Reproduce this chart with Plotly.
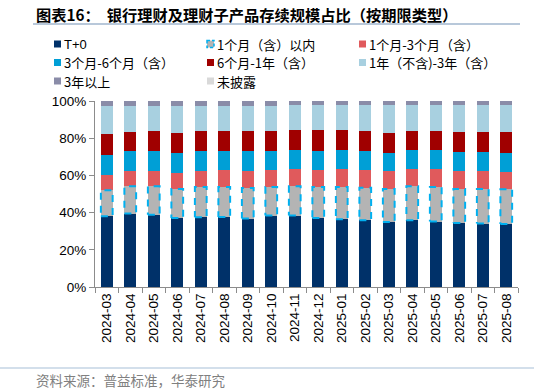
import plotly.graph_objects as go

months = ["2024-03", "2024-04", "2024-05", "2024-06", "2024-07", "2024-08", "2024-09",
          "2024-10", "2024-11", "2024-12", "2025-01", "2025-02", "2025-03", "2025-04",
          "2025-05", "2025-06", "2025-07", "2025-08"]

t0 = [38.0, 39.5, 38.9, 37.1, 37.5, 37.6, 36.8, 38.4, 38.4, 37.1, 36.4, 35.9, 35.0, 35.9, 35.2, 34.4, 34.1, 33.9]
m1 = [14.0, 14.6, 15.2, 15.6, 16.3, 16.2, 16.4, 15.4, 15.7, 16.7, 17.4, 17.5, 17.7, 18.2, 18.6, 18.3, 18.6, 18.6]
m1_3 = [8.4, 8.3, 8.4, 8.4, 8.7, 8.9, 9.2, 9.1, 9.2, 9.1, 9.5, 9.5, 9.5, 9.5, 9.5, 9.7, 9.5, 9.5]
m3_6 = [10.4, 10.6, 10.6, 10.9, 10.5, 10.5, 10.6, 10.3, 10.2, 10.2, 10.2, 10.1, 10.0, 9.9, 10.2, 10.2, 10.2, 10.2]
m6_12 = [11.5, 10.3, 10.6, 11.0, 10.7, 10.7, 10.7, 10.9, 10.7, 11.1, 10.7, 10.9, 10.8, 10.4, 10.2, 10.6, 10.8, 11.0]
y1_3 = [15.0, 14.0, 13.6, 14.3, 13.6, 13.4, 13.6, 13.2, 13.5, 13.5, 13.5, 13.8, 14.7, 13.8, 14.0, 14.5, 14.5, 14.5]
y3p = [2.7, 2.7, 2.7, 2.7, 2.7, 2.7, 2.7, 2.8, 2.3, 2.3, 2.3, 2.3, 2.3, 2.3, 2.3, 2.3, 2.3, 2.3]
undisclosed = [0.0] * 18

names = ["T+0", "1个月（含）以内", "1个月-3个月（含）", "3个月-6个月（含）",
         "6个月-1年（含）", "1年（不含)-3年（含）", "3年以上", "未披露"]
series = [t0, m1, m1_3, m3_6, m6_12, y1_3, y3p, undisclosed]
colors = ["#003169", "#B4B4B4", "#E05A5C", "#009FD6", "#A00000", "#A8D0E0", "#8A8CA8", "#D9D9D9"]
border_color = "#00B0F0"

FONT = "Liberation Sans, Noto Sans CJK SC, Arial"
CJK = "Noto Sans CJK SC, Liberation Sans"

W, H = 534, 392
L, R, T, B = 95, 16, 101, 105
PW, PH = W - L - R, H - T - B

def px2x(px):
    return (px - L) / PW

def py2y(py):
    return (H - B - py) / PH

xs = list(range(len(months)))
bw = 0.5

fig = go.Figure()
for name, vals, col in zip(names, series, colors):
    fig.add_trace(go.Bar(x=xs, y=vals, name=name, marker=dict(color=col, line=dict(width=0)),
                         width=bw, showlegend=False))

# dashed cyan outline of the "1个月（含）以内" segment
bx, by = [], []
for i, (b, h) in enumerate(zip(t0, m1)):
    bx += [i - bw / 2, i + bw / 2, i + bw / 2, i - bw / 2, i - bw / 2, None]
    by += [b, b, b + h, b + h, b, None]
fig.add_trace(go.Scatter(x=bx, y=by, mode="lines", showlegend=False, hoverinfo="skip",
                         line=dict(color=border_color, width=2, dash="7px,6px")))

fig.update_layout(
    barmode="stack",
    width=W, height=H,
    margin=dict(l=L, r=R, t=T, b=B),
    plot_bgcolor="white", paper_bgcolor="white",
    bargap=0.5,
    font=dict(family=FONT, size=13, color="black"),
)
fig.update_xaxes(
    range=[-0.5, len(months) - 0.5],
    tickmode="array", tickvals=xs, ticktext=months, tickangle=-90,
    ticks="", ticklen=0,
    tickfont=dict(family=FONT, size=13.5, color="black"),
    showline=True, linecolor="#8C8C8C", linewidth=1,
    showgrid=False, zeroline=False,
    minor=dict(tickmode="array", tickvals=[i - 0.5 for i in range(len(months) + 1)],
               ticks="outside", ticklen=5, tickcolor="#8C8C8C", tickwidth=1, showgrid=False),
)
fig.update_yaxes(
    range=[0, 100], tickvals=[0, 20, 40, 60, 80, 100],
    ticktext=["0%", "20%", "40%", "60%", "80%", "100%"],
    ticks="outside", ticklen=5, tickcolor="#8C8C8C",
    tickfont=dict(family=FONT, size=13.5, color="black"),
    showline=True, linecolor="#8C8C8C", linewidth=1,
    showgrid=False, zeroline=False,
)

shapes = []
annotations = []

# title + rule
annotations.append(dict(xref="paper", yref="paper", x=px2x(34), y=py2y(14), xanchor="left", yanchor="middle",
                        text="<b>图表16：  银行理财及理财子产品存续规模占比（按期限类型）</b>", showarrow=False,
                        font=dict(family=CJK, size=15.25, color="black")))
shapes.append(dict(type="line", xref="paper", yref="paper", x0=px2x(33), x1=px2x(520), y0=py2y(24), y1=py2y(24),
                   line=dict(color="#B8C8DA", width=2)))

# manual legend
col_x = [54, 207, 359]
row_y = [44, 62.5, 81]
for k, (name, col) in enumerate(zip(names, colors)):
    cx = col_x[k % 3]
    cy = row_y[k // 3]
    s = 7
    shapes.append(dict(type="rect", xref="paper", yref="paper",
                       x0=px2x(cx), x1=px2x(cx + s), y0=py2y(cy - s / 2), y1=py2y(cy + s / 2),
                       fillcolor=col,
                       line=dict(color=border_color if k == 1 else col, width=1.5 if k == 1 else 0,
                                 dash="3px,2px")))
    annotations.append(dict(xref="paper", yref="paper", x=px2x(cx + s + 1), y=py2y(cy), xanchor="left",
                            yanchor="middle", text=name, showarrow=False,
                            font=dict(family=CJK if k else FONT, size=13, color="black")))

# source line + text
shapes.append(dict(type="line", xref="paper", yref="paper", x0=px2x(0), x1=px2x(534), y0=py2y(368), y1=py2y(368),
                   line=dict(color="#C5D5E4", width=1.5)))
annotations.append(dict(xref="paper", yref="paper", x=px2x(34), y=py2y(380), xanchor="left", yanchor="middle",
                        text="资料来源：普益标准，华泰研究", showarrow=False,
                        font=dict(family=CJK, size=13.5, color="#808080")))

fig.update_layout(shapes=shapes, annotations=annotations)
fig.write_html("out.html", config={"displayModeBar": False},
               post_script="document.body.style.margin='0';document.body.style.overflow='hidden';")
